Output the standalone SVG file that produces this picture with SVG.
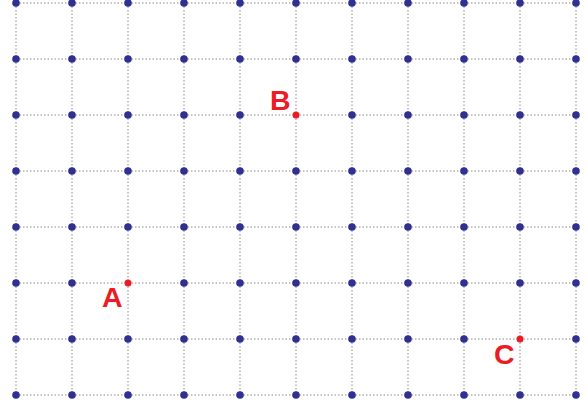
<svg xmlns="http://www.w3.org/2000/svg" width="588" height="410" viewBox="0 0 588 410">
<style>
.g{stroke:#8a8a8a;stroke-width:1;stroke-dasharray:1.5,2;fill:none}
.n{fill:#2e3192}
.r{fill:#ed1c24}
.t{font-family:"Liberation Sans",Arial,sans-serif;font-weight:bold;font-size:28.5px;fill:#ed1c24}
</style>
<rect width="588" height="410" fill="#fff"/>
<g id="connectors">
<path class="g" d="M16 3H576M16 59H576M16 115H576M16 171H576M16 227H576M16 283H576M16 339H576M16 395H576"/>
<path class="g" d="M16 3V395M72 3V395M128 3V395M184 3V395M240 3V395M296 3V395M352 3V395M408 3V395M464 3V395M520 3V395M576 3V395"/>
</g>
<g id="grid-dots">
<g id="row0"><circle class="n" cx="16" cy="3" r="3.8"/><circle class="n" cx="72" cy="3" r="3.8"/><circle class="n" cx="128" cy="3" r="3.8"/><circle class="n" cx="184" cy="3" r="3.8"/><circle class="n" cx="240" cy="3" r="3.8"/><circle class="n" cx="296" cy="3" r="3.8"/><circle class="n" cx="352" cy="3" r="3.8"/><circle class="n" cx="408" cy="3" r="3.8"/><circle class="n" cx="464" cy="3" r="3.8"/><circle class="n" cx="520" cy="3" r="3.8"/><circle class="n" cx="576" cy="3" r="3.8"/></g>
<g id="row1"><circle class="n" cx="16" cy="59" r="3.8"/><circle class="n" cx="72" cy="59" r="3.8"/><circle class="n" cx="128" cy="59" r="3.8"/><circle class="n" cx="184" cy="59" r="3.8"/><circle class="n" cx="240" cy="59" r="3.8"/><circle class="n" cx="296" cy="59" r="3.8"/><circle class="n" cx="352" cy="59" r="3.8"/><circle class="n" cx="408" cy="59" r="3.8"/><circle class="n" cx="464" cy="59" r="3.8"/><circle class="n" cx="520" cy="59" r="3.8"/><circle class="n" cx="576" cy="59" r="3.8"/></g>
<g id="row2"><circle class="n" cx="16" cy="115" r="3.8"/><circle class="n" cx="72" cy="115" r="3.8"/><circle class="n" cx="128" cy="115" r="3.8"/><circle class="n" cx="184" cy="115" r="3.8"/><circle class="n" cx="240" cy="115" r="3.8"/><circle class="n" cx="352" cy="115" r="3.8"/><circle class="n" cx="408" cy="115" r="3.8"/><circle class="n" cx="464" cy="115" r="3.8"/><circle class="n" cx="520" cy="115" r="3.8"/><circle class="n" cx="576" cy="115" r="3.8"/></g>
<g id="row3"><circle class="n" cx="16" cy="171" r="3.8"/><circle class="n" cx="72" cy="171" r="3.8"/><circle class="n" cx="128" cy="171" r="3.8"/><circle class="n" cx="184" cy="171" r="3.8"/><circle class="n" cx="240" cy="171" r="3.8"/><circle class="n" cx="296" cy="171" r="3.8"/><circle class="n" cx="352" cy="171" r="3.8"/><circle class="n" cx="408" cy="171" r="3.8"/><circle class="n" cx="464" cy="171" r="3.8"/><circle class="n" cx="520" cy="171" r="3.8"/><circle class="n" cx="576" cy="171" r="3.8"/></g>
<g id="row4"><circle class="n" cx="16" cy="227" r="3.8"/><circle class="n" cx="72" cy="227" r="3.8"/><circle class="n" cx="128" cy="227" r="3.8"/><circle class="n" cx="184" cy="227" r="3.8"/><circle class="n" cx="240" cy="227" r="3.8"/><circle class="n" cx="296" cy="227" r="3.8"/><circle class="n" cx="352" cy="227" r="3.8"/><circle class="n" cx="408" cy="227" r="3.8"/><circle class="n" cx="464" cy="227" r="3.8"/><circle class="n" cx="520" cy="227" r="3.8"/><circle class="n" cx="576" cy="227" r="3.8"/></g>
<g id="row5"><circle class="n" cx="16" cy="283" r="3.8"/><circle class="n" cx="72" cy="283" r="3.8"/><circle class="n" cx="184" cy="283" r="3.8"/><circle class="n" cx="240" cy="283" r="3.8"/><circle class="n" cx="296" cy="283" r="3.8"/><circle class="n" cx="352" cy="283" r="3.8"/><circle class="n" cx="408" cy="283" r="3.8"/><circle class="n" cx="464" cy="283" r="3.8"/><circle class="n" cx="520" cy="283" r="3.8"/><circle class="n" cx="576" cy="283" r="3.8"/></g>
<g id="row6"><circle class="n" cx="16" cy="339" r="3.8"/><circle class="n" cx="72" cy="339" r="3.8"/><circle class="n" cx="128" cy="339" r="3.8"/><circle class="n" cx="184" cy="339" r="3.8"/><circle class="n" cx="240" cy="339" r="3.8"/><circle class="n" cx="296" cy="339" r="3.8"/><circle class="n" cx="352" cy="339" r="3.8"/><circle class="n" cx="408" cy="339" r="3.8"/><circle class="n" cx="464" cy="339" r="3.8"/><circle class="n" cx="576" cy="339" r="3.8"/></g>
<g id="row7"><circle class="n" cx="16" cy="395" r="3.8"/><circle class="n" cx="72" cy="395" r="3.8"/><circle class="n" cx="128" cy="395" r="3.8"/><circle class="n" cx="184" cy="395" r="3.8"/><circle class="n" cx="240" cy="395" r="3.8"/><circle class="n" cx="296" cy="395" r="3.8"/><circle class="n" cx="352" cy="395" r="3.8"/><circle class="n" cx="408" cy="395" r="3.8"/><circle class="n" cx="464" cy="395" r="3.8"/><circle class="n" cx="520" cy="395" r="3.8"/><circle class="n" cx="576" cy="395" r="3.8"/></g>
</g>
<g id="pointA"><circle class="r" cx="128" cy="283" r="3.5"/><text class="t" x="102" y="307">A</text></g>
<g id="pointB"><circle class="r" cx="296" cy="115" r="3.5"/><text class="t" x="270" y="110">B</text></g>
<g id="pointC"><circle class="r" cx="520" cy="339" r="3.5"/><text class="t" x="494" y="364">C</text></g>
</svg>
